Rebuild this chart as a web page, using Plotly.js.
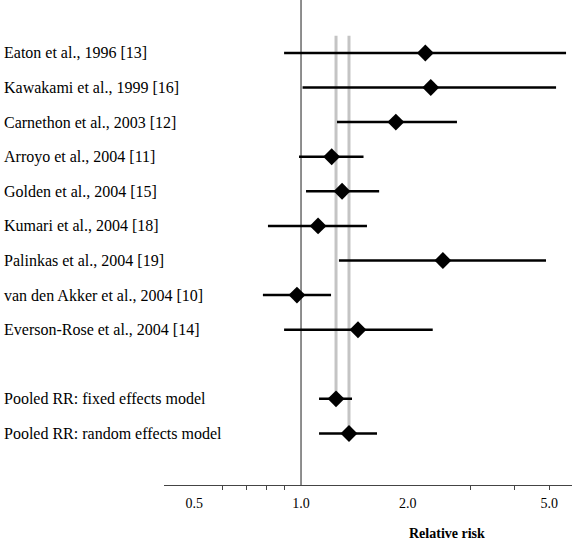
<!DOCTYPE html>
<html>
<head>
<meta charset="utf-8">
<script src="https://cdn.plot.ly/plotly-3.0.1.min.js"></script>
<style>html,body{margin:0;padding:0;background:#fff;}#chart{width:572px;height:543px;}</style>
</head>
<body>
<div id="chart"></div>
<script>
// Study labels (top to bottom)
var studies = [
  "Eaton et al., 1996 [13]",
  "Kawakami et al., 1999 [16]",
  "Carnethon et al., 2003 [12]",
  "Arroyo et al., 2004 [11]",
  "Golden et al., 2004 [15]",
  "Kumari et al., 2004 [18]",
  "Palinkas et al., 2004 [19]",
  "van den Akker et al., 2004 [10]",
  "Everson-Rose et al., 2004 [14]",
  "Pooled RR: fixed effects model",
  "Pooled RR: random effects model"
];
// Row positions (gap before pooled rows)
var rows = [0, 1, 2, 3, 4, 5, 6, 7, 8, 10, 11];
// Relative risk estimates and 95% CI
var rr    = [2.24, 2.32, 1.85, 1.22, 1.305, 1.117, 2.51, 0.974, 1.447, 1.255, 1.365];
var lower = [0.896, 1.01, 1.263, 0.987, 1.033, 0.807, 1.279, 0.781, 0.896, 1.124, 1.124];
var upper = [5.58, 5.23, 2.75, 1.50, 1.66, 1.534, 4.90, 1.215, 2.35, 1.392, 1.637];
// Axis labels
var tickVals = [0.5, 1, 2, 5];
var tickText = ["0.5", "1.0", "2.0", "5.0"];
var minorTicks = [0.6, 0.7, 0.8, 0.9, 3, 4, 5];
var refValue = 1;
var pooledFixed = rr[9];
var pooledRandom = rr[10];

var plus = rr.map(function(v, i){ return upper[i] - v; });
var minus = rr.map(function(v, i){ return v - lower[i]; });

var trace = {
  type: 'scatter',
  mode: 'markers',
  x: rr,
  y: rows,
  marker: {symbol: 'diamond', size: 13, color: '#000'},
  error_x: {type: 'data', symmetric: false, array: plus, arrayminus: minus,
            width: 0, thickness: 2.5, color: '#000'},
  hoverinfo: 'x+text',
  text: studies,
  showlegend: false
};

var serif = "Liberation Serif, Times New Roman, serif";
var plotLeft = 164, plotW = 572 - 164, plotH = 485;

var annotations = studies.map(function(s, i){
  return {
    xref: 'paper', yref: 'y',
    x: (2 - plotLeft) / plotW, y: rows[i],
    xanchor: 'left', yanchor: 'middle',
    text: s, showarrow: false,
    font: {family: serif, size: 16, color: '#000'}
  };
});
annotations.push({
  xref: 'paper', yref: 'paper',
  x: (447 - plotLeft) / plotW, y: -(533 - plotH) / plotH,
  xanchor: 'center', yanchor: 'middle',
  text: '<b>Relative risk</b>', showarrow: false,
  font: {family: serif, size: 14, color: '#000'}
});

var layout = {
  width: 572, height: 543,
  margin: {l: plotLeft, r: 0, t: 0, b: 543 - plotH, pad: 0},
  paper_bgcolor: '#fff', plot_bgcolor: '#fff',
  xaxis: {
    type: 'log',
    range: [-0.386, 0.7634],
    tickmode: 'array', tickvals: tickVals, ticktext: tickText,
    ticks: '', showgrid: false, zeroline: false,
    showline: true, linecolor: '#444', linewidth: 1,
    ticklabelstandoff: 5,
    tickfont: {family: serif, size: 14, color: '#000'},
    minor: {tickmode: 'array', tickvals: minorTicks, ticks: 'outside', ticklen: 4,
            tickwidth: 1, tickcolor: '#444', showgrid: false},
    fixedrange: true
  },
  yaxis: {
    range: [12.49, -1.53],
    showgrid: false, zeroline: false, showline: false,
    showticklabels: false, ticks: '', fixedrange: true
  },
  shapes: [
    {type: 'line', layer: 'below', xref: 'x', yref: 'y', x0: pooledFixed, x1: pooledFixed,
     y0: -0.5, y1: rows[9], line: {color: '#c4c4c4', width: 3}},
    {type: 'line', layer: 'below', xref: 'x', yref: 'y', x0: pooledRandom, x1: pooledRandom,
     y0: -0.5, y1: rows[10], line: {color: '#c4c4c4', width: 3}},
    {type: 'line', layer: 'below', xref: 'x', yref: 'paper', x0: refValue, x1: refValue,
     y0: 0, y1: 1, line: {color: '#444', width: 1.2}}
  ],
  annotations: annotations,
  font: {family: serif}
};

Plotly.newPlot('chart', [trace], layout, {displayModeBar: false, staticPlot: true});
</script>
</body>
</html>
